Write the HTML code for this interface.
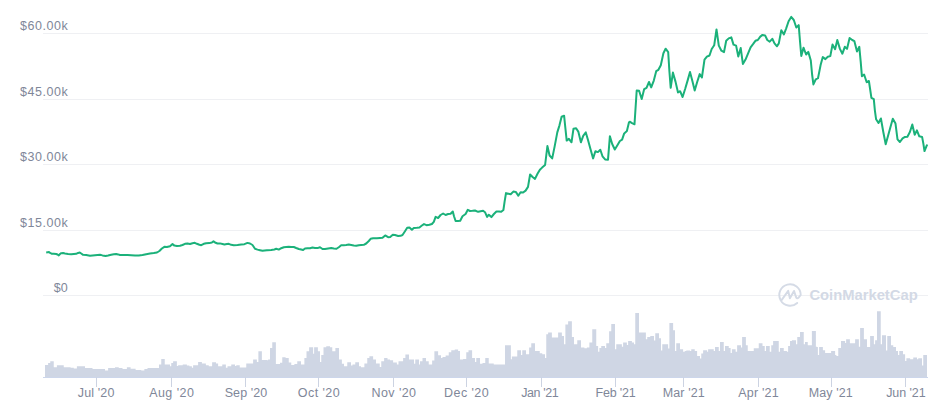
<!DOCTYPE html>
<html><head><meta charset="utf-8"><title>Chart</title>
<style>
html,body{margin:0;padding:0;background:#fff;}
body{width:937px;height:410px;overflow:hidden;font-family:"Liberation Sans",sans-serif;}
svg{display:block;}
svg text{font-family:"Liberation Sans",sans-serif;}
.yl{font-size:12.5px;fill:#7f8799;}
.xl{font-size:12.5px;fill:#7f8799;}
.wm{font-size:14.6px;font-weight:bold;fill:#d3d9e5;}
</style></head><body>
<svg width="937" height="410" viewBox="0 0 937 410">
<rect width="937" height="410" fill="#ffffff"/>
<g fill="#eff0f3">
<rect x="43" y="33" width="885" height="1"/>
<rect x="43" y="99" width="885" height="1"/>
<rect x="43" y="164" width="885" height="1"/>
<rect x="43" y="230" width="885" height="1"/>
<rect x="43" y="295" width="885" height="1"/>
</g>
<g id="wm">
<path d="M781.2 300.6 L788.2 290.9 L789.9 298.2 L794 290.9 L796 297 Q797 299.2 798.6 297.6 L800.7 295 A10.7 10.7 0 1 0 797.2 302.95" fill="none" stroke="#d5dbe6" stroke-width="1.95" stroke-linecap="round" stroke-linejoin="round"/>
<text class="wm" x="809.4" y="300.4" textLength="108.3" lengthAdjust="spacingAndGlyphs">CoinMarketCap</text>
</g>
<text class="yl" x="20.0" y="29.8" textLength="47.8" lengthAdjust="spacing">$60.00k</text>
<text class="yl" x="20.0" y="95.8" textLength="47.8" lengthAdjust="spacing">$45.00k</text>
<text class="yl" x="20.0" y="160.8" textLength="47.8" lengthAdjust="spacing">$30.00k</text>
<text class="yl" x="20.0" y="226.8" textLength="47.8" lengthAdjust="spacing">$15.00k</text>
<text class="yl" x="53.8" y="291.8" textLength="14.0" lengthAdjust="spacing">$0</text>
<path d="M45.00 377.50 L45.00 365.00 L48.12 365.00 L48.12 363.12 L50.25 363.12 L50.25 361.25 L53.75 361.25 L53.75 367.25 L56.88 367.25 L56.88 365.25 L63.75 365.25 L63.75 367.25 L70.62 367.25 L70.62 367.75 L73.75 367.75 L73.75 368.50 L76.88 368.50 L76.88 366.25 L85.00 366.25 L85.00 368.12 L92.50 368.12 L92.50 369.00 L105.00 369.00 L105.00 370.62 L108.12 370.62 L108.12 368.12 L115.00 368.12 L115.00 367.25 L118.75 367.25 L118.75 368.12 L122.50 368.12 L122.50 369.00 L126.88 369.00 L126.88 367.25 L130.62 367.25 L130.62 368.75 L135.62 368.75 L135.62 370.00 L141.25 370.00 L141.25 370.62 L144.38 370.62 L144.38 369.00 L147.50 369.00 L147.50 368.12 L159.00 368.12 L159.00 364.38 L161.25 364.38 L161.25 359.00 L164.75 359.00 L164.75 364.38 L170.00 364.38 L170.00 366.25 L171.25 366.25 L171.25 363.12 L173.12 363.12 L173.12 361.25 L176.88 361.25 L176.88 366.00 L178.12 366.00 L178.12 365.25 L182.75 365.25 L182.75 364.38 L186.88 364.38 L186.88 365.62 L189.38 365.62 L189.38 366.25 L191.88 366.25 L191.88 367.75 L193.12 367.75 L193.12 365.25 L198.12 365.25 L198.12 362.12 L201.88 362.12 L201.88 363.50 L205.88 363.50 L205.88 365.25 L208.75 365.25 L208.75 366.25 L212.12 366.25 L212.12 362.25 L216.00 362.25 L216.00 363.50 L218.12 363.50 L218.12 366.25 L222.25 366.25 L222.25 364.38 L225.88 364.38 L225.88 367.75 L227.50 367.75 L227.50 366.25 L231.25 366.25 L231.25 364.38 L235.00 364.38 L235.00 366.00 L236.25 366.00 L236.25 365.25 L239.75 365.25 L239.75 367.50 L246.25 367.50 L246.25 363.50 L253.12 363.50 L253.12 359.38 L256.88 359.38 L256.88 361.88 L258.38 361.88 L258.38 351.25 L261.88 351.25 L261.88 360.00 L267.12 360.00 L267.12 360.25 L268.12 360.25 L268.12 359.38 L270.00 359.38 L270.00 348.12 L272.25 348.12 L272.25 342.25 L275.88 342.25 L275.88 364.00 L280.00 364.00 L280.00 362.75 L282.25 362.75 L282.25 357.25 L285.62 357.25 L285.62 357.88 L288.75 357.88 L288.75 362.50 L291.25 362.50 L291.25 365.00 L294.38 365.00 L294.38 364.00 L297.25 364.00 L297.25 361.25 L301.00 361.25 L301.00 364.38 L304.38 364.38 L304.38 358.12 L306.50 358.12 L306.50 351.25 L309.12 351.25 L309.12 347.25 L313.12 347.25 L313.12 353.75 L314.12 353.75 L314.12 347.25 L317.88 347.25 L317.88 351.25 L320.00 351.25 L320.00 361.88 L321.25 361.88 L321.25 355.00 L323.50 355.00 L323.50 347.25 L326.25 347.25 L326.25 346.25 L330.00 346.25 L330.00 347.25 L332.25 347.25 L332.25 351.25 L335.38 351.25 L335.38 348.12 L339.00 348.12 L339.00 359.38 L341.88 359.38 L341.88 363.75 L344.00 363.75 L344.00 366.25 L347.25 366.25 L347.25 362.25 L351.00 362.25 L351.00 365.62 L352.50 365.62 L352.50 364.38 L355.25 364.38 L355.25 362.25 L359.00 362.25 L359.00 366.25 L361.00 366.25 L361.00 367.25 L364.38 367.25 L364.38 363.50 L367.25 363.50 L367.25 358.12 L369.38 358.12 L369.38 356.25 L373.12 356.25 L373.12 359.38 L376.00 359.38 L376.00 363.50 L379.75 363.50 L379.75 366.88 L381.25 366.88 L381.25 361.25 L384.12 361.25 L384.12 358.12 L387.50 358.12 L387.50 359.38 L390.00 359.38 L390.00 360.25 L393.12 360.25 L393.12 362.50 L396.88 362.50 L396.88 364.38 L398.50 364.38 L398.50 361.25 L403.12 361.25 L403.12 358.12 L405.38 358.12 L405.38 354.38 L409.00 354.38 L409.00 359.38 L414.00 359.38 L414.00 363.75 L415.25 363.75 L415.25 359.38 L419.00 359.38 L419.00 364.38 L420.00 364.38 L420.00 361.25 L422.50 361.25 L422.50 358.12 L426.00 358.12 L426.00 361.25 L428.75 361.25 L428.75 364.38 L432.12 364.38 L432.12 360.62 L434.38 360.62 L434.38 351.25 L438.12 351.25 L438.12 355.25 L441.00 355.25 L441.00 358.12 L442.50 358.12 L442.50 356.88 L445.62 356.88 L445.62 355.62 L448.75 355.62 L448.75 352.25 L451.25 352.25 L451.25 350.25 L454.75 350.25 L454.75 349.38 L458.12 349.38 L458.12 351.00 L460.00 351.00 L460.00 359.38 L463.12 359.38 L463.12 359.00 L466.25 359.00 L466.25 352.25 L468.50 352.25 L468.50 350.25 L472.12 350.25 L472.12 358.12 L475.00 358.12 L475.00 361.88 L476.25 361.88 L476.25 358.12 L480.00 358.12 L480.00 363.75 L482.50 363.75 L482.50 363.12 L485.25 363.12 L485.25 358.12 L487.12 358.12 L487.12 358.00 L488.75 358.00 L488.75 363.62 L493.75 363.62 L493.75 364.50 L505.00 364.50 L505.00 345.25 L510.88 345.25 L510.88 359.25 L511.88 359.25 L511.88 356.50 L517.25 356.50 L517.25 350.25 L521.00 350.25 L521.00 354.88 L522.25 354.88 L522.25 350.25 L526.00 350.25 L526.00 354.25 L529.12 354.25 L529.12 347.38 L531.25 347.38 L531.25 343.25 L535.00 343.25 L535.00 351.12 L539.75 351.12 L539.75 353.25 L542.25 353.25 L542.25 354.25 L545.00 354.25 L545.00 358.00 L546.25 358.00 L546.25 334.25 L548.12 334.25 L548.12 332.38 L551.88 332.38 L551.88 337.38 L558.12 337.38 L558.12 332.38 L561.88 332.38 L561.88 336.12 L564.00 336.12 L564.00 344.25 L565.38 344.25 L565.38 324.38 L568.12 324.38 L568.12 321.25 L571.88 321.25 L571.88 337.00 L574.00 337.00 L574.00 344.25 L577.25 344.25 L577.25 340.25 L581.00 340.25 L581.00 347.38 L584.38 347.38 L584.38 348.25 L586.88 348.25 L586.88 347.38 L589.38 347.38 L589.38 342.38 L592.25 342.38 L592.25 329.25 L596.25 329.25 L596.25 346.12 L598.12 346.12 L598.12 351.75 L599.38 351.75 L599.38 348.00 L601.25 348.00 L601.25 346.12 L605.00 346.12 L605.00 348.00 L606.25 348.00 L606.25 343.25 L609.12 343.25 L609.12 331.25 L611.25 331.25 L611.25 324.12 L615.00 324.12 L615.00 349.25 L616.25 349.25 L616.25 344.25 L621.88 344.25 L621.88 346.75 L623.12 346.75 L623.12 342.38 L626.88 342.38 L626.88 344.88 L628.12 344.88 L628.12 341.12 L631.88 341.12 L631.88 342.38 L634.00 342.38 L634.00 344.25 L635.25 344.25 L635.25 313.12 L639.00 313.12 L639.00 332.38 L645.88 332.38 L645.88 339.25 L647.25 339.25 L647.25 337.00 L650.25 337.00 L650.25 336.12 L654.00 336.12 L654.00 340.50 L655.25 340.50 L655.25 333.25 L659.00 333.25 L659.00 338.25 L661.00 338.25 L661.00 350.50 L662.25 350.50 L662.25 344.25 L668.12 344.25 L668.12 348.62 L669.38 348.62 L669.38 323.12 L673.12 323.12 L673.12 330.25 L675.00 330.25 L675.00 351.12 L676.25 351.12 L676.25 343.25 L680.00 343.25 L680.00 349.25 L683.12 349.25 L683.12 351.75 L684.75 351.75 L684.75 351.12 L686.25 351.12 L686.25 350.50 L690.00 350.50 L690.00 351.12 L691.25 351.12 L691.25 349.25 L694.75 349.25 L694.75 351.12 L697.12 351.12 L697.12 356.12 L700.00 356.12 L700.00 358.62 L701.25 358.62 L701.25 353.62 L703.12 353.62 L703.12 350.25 L707.12 350.25 L707.12 351.75 L708.12 351.75 L708.12 349.25 L713.75 349.25 L713.75 351.12 L715.00 351.12 L715.00 347.12 L718.75 347.12 L718.75 351.12 L720.00 351.12 L720.00 342.12 L723.75 342.12 L723.75 351.12 L725.00 351.12 L725.00 346.12 L728.75 346.12 L728.75 348.00 L730.62 348.00 L730.62 353.00 L731.88 353.00 L731.88 349.25 L735.62 349.25 L735.62 351.75 L737.12 351.75 L737.12 345.25 L741.00 345.25 L741.00 347.38 L742.12 347.38 L742.12 337.00 L745.88 337.00 L745.88 345.25 L747.75 345.25 L747.75 351.12 L753.75 351.12 L753.75 348.25 L758.75 348.25 L758.75 343.25 L762.50 343.25 L762.50 346.12 L764.75 346.12 L764.75 351.12 L766.00 351.12 L766.00 346.12 L769.75 346.12 L769.75 351.75 L771.25 351.75 L771.25 345.25 L773.12 345.25 L773.12 341.12 L778.75 341.12 L778.75 351.75 L780.00 351.75 L780.00 348.00 L783.75 348.00 L783.75 351.12 L786.88 351.12 L786.88 351.75 L788.12 351.75 L788.12 346.12 L790.00 346.12 L790.00 341.12 L791.88 341.12 L791.88 340.25 L796.00 340.25 L796.00 344.25 L797.25 344.25 L797.25 337.00 L800.00 337.00 L800.00 332.12 L803.75 332.12 L803.75 344.25 L805.00 344.25 L805.00 342.12 L807.75 342.12 L807.75 345.25 L811.88 345.25 L811.88 331.12 L815.88 331.12 L815.88 346.75 L817.12 346.75 L817.12 347.12 L817.88 347.12 L817.88 354.88 L819.12 354.88 L819.12 347.12 L822.88 347.12 L822.88 350.25 L825.12 350.25 L825.12 353.00 L831.12 353.00 L831.12 351.12 L835.12 351.12 L835.12 354.88 L836.38 354.88 L836.38 356.12 L838.25 356.12 L838.25 348.00 L841.00 348.00 L841.00 341.12 L845.12 341.12 L845.12 343.00 L846.12 343.00 L846.12 339.25 L849.88 339.25 L849.88 343.25 L855.12 343.25 L855.12 339.25 L858.88 339.25 L858.88 346.75 L860.12 346.75 L860.12 328.12 L863.88 328.12 L863.88 339.25 L867.00 339.25 L867.00 347.12 L870.12 347.12 L870.12 336.12 L873.88 336.12 L873.88 344.25 L875.12 344.25 L875.12 340.25 L877.00 340.25 L877.00 311.25 L880.75 311.25 L880.75 344.25 L882.00 344.25 L882.00 335.25 L886.00 335.25 L886.00 350.50 L887.25 350.50 L887.25 336.12 L891.00 336.12 L891.00 345.25 L893.25 345.25 L893.25 347.12 L896.00 347.12 L896.00 351.12 L898.00 351.12 L898.00 354.88 L899.25 354.88 L899.25 351.12 L903.00 351.12 L903.00 354.25 L905.12 354.25 L905.12 361.12 L906.38 361.12 L906.38 358.25 L910.12 358.25 L910.12 359.25 L913.25 359.25 L913.25 357.38 L917.00 357.38 L917.00 359.25 L918.25 359.25 L918.25 358.25 L922.00 358.25 L922.00 365.50 L923.25 365.50 L923.25 355.12 L927.00 355.12 L927.00 377.50 Z" fill="#cfd6e4"/>
<rect x="43" y="377" width="885" height="1" fill="#ccd6eb"/>
<g fill="#ccd3e2">
<rect x="96" y="377" width="1" height="10"/>
<rect x="171" y="377" width="1" height="10"/>
<rect x="245" y="377" width="1" height="10"/>
<rect x="318" y="377" width="1" height="10"/>
<rect x="393" y="377" width="1" height="10"/>
<rect x="466" y="377" width="1" height="10"/>
<rect x="541" y="377" width="1" height="10"/>
<rect x="615" y="377" width="1" height="10"/>
<rect x="683" y="377" width="1" height="10"/>
<rect x="758" y="377" width="1" height="10"/>
<rect x="831" y="377" width="1" height="10"/>
<rect x="905" y="377" width="1" height="10"/>
</g>
<text class="xl" x="77.75" y="397.0" textLength="36.6" lengthAdjust="spacing">Jul '20</text>
<text class="xl" x="149.15" y="397.0" textLength="44.8" lengthAdjust="spacing">Aug '20</text>
<text class="xl" x="224.70" y="397.0" textLength="42.5" lengthAdjust="spacing">Sep '20</text>
<text class="xl" x="297.85" y="397.0" textLength="41.8" lengthAdjust="spacing">Oct '20</text>
<text class="xl" x="371.45" y="397.0" textLength="44.6" lengthAdjust="spacing">Nov '20</text>
<text class="xl" x="444.05" y="397.0" textLength="44.6" lengthAdjust="spacing">Dec '20</text>
<text class="xl" x="521.15" y="397.0" textLength="37.6" lengthAdjust="spacing">Jan '21</text>
<text class="xl" x="595.50" y="397.0" textLength="40.3" lengthAdjust="spacing">Feb '21</text>
<text class="xl" x="662.75" y="397.0" textLength="41.9" lengthAdjust="spacing">Mar '21</text>
<text class="xl" x="738.35" y="397.0" textLength="40.3" lengthAdjust="spacing">Apr '21</text>
<text class="xl" x="808.85" y="397.0" textLength="43.8" lengthAdjust="spacing">May '21</text>
<text class="xl" x="886.20" y="397.0" textLength="39.4" lengthAdjust="spacing">Jun '21</text>
<path d="M46.2 252.5 L47.8 252.2 L49.0 252.1 L50.6 253.2 L51.9 253.8 L53.8 253.8 L56.2 254.0 L57.5 254.5 L58.8 255.4 L60.0 254.0 L61.2 253.2 L63.1 253.1 L65.0 253.5 L68.1 253.9 L71.2 254.2 L73.8 254.0 L76.2 253.8 L78.1 252.9 L79.8 252.6 L81.2 253.5 L83.1 254.8 L86.2 255.1 L90.0 255.8 L92.5 255.5 L95.0 255.2 L97.5 255.0 L100.0 254.8 L102.5 255.4 L105.6 256.0 L108.1 255.5 L111.2 254.8 L113.8 254.2 L116.2 254.0 L118.1 254.4 L120.0 255.0 L123.8 254.9 L127.5 255.0 L131.2 255.2 L135.0 255.6 L138.8 255.4 L142.5 255.0 L146.2 254.2 L150.0 253.5 L153.8 253.0 L157.0 252.5 L159.4 251.0 L161.9 248.5 L164.4 246.8 L166.9 247.0 L170.0 246.2 L172.5 244.1 L174.4 245.6 L176.9 246.0 L180.0 245.8 L182.5 245.0 L185.0 243.8 L187.5 243.5 L190.0 244.0 L192.5 243.2 L194.8 242.8 L196.9 243.8 L199.4 244.8 L201.2 245.2 L203.8 243.8 L206.2 243.2 L209.4 243.1 L211.9 242.5 L213.5 241.2 L215.0 242.5 L217.5 243.5 L220.0 243.4 L222.5 244.0 L224.4 244.5 L226.9 244.0 L228.8 243.8 L231.2 244.8 L233.8 245.2 L237.5 245.0 L241.2 244.5 L244.4 244.2 L247.5 242.9 L250.0 243.5 L252.5 245.0 L255.0 248.8 L257.5 249.6 L260.0 250.2 L262.5 250.8 L266.9 250.2 L267.5 250.2 L271.2 249.9 L274.4 249.5 L276.2 248.8 L278.8 249.6 L281.2 248.2 L283.8 247.2 L286.2 247.0 L288.8 246.8 L291.2 246.9 L293.8 247.0 L296.2 248.0 L298.8 249.0 L301.2 249.5 L303.1 250.0 L305.0 248.5 L307.5 248.2 L310.0 248.2 L312.5 247.5 L315.0 247.9 L317.5 248.1 L320.0 247.2 L322.5 249.0 L325.0 249.0 L328.1 248.5 L331.2 248.0 L333.8 248.5 L336.5 248.8 L338.8 247.2 L341.2 245.2 L343.8 245.2 L346.2 245.0 L348.8 244.6 L351.2 245.0 L353.8 245.5 L356.2 245.8 L358.8 245.2 L361.2 245.0 L363.8 244.8 L366.2 243.5 L368.8 241.0 L370.6 238.8 L373.1 238.2 L376.9 238.2 L380.0 238.0 L382.5 237.8 L385.2 235.4 L388.1 237.2 L390.2 237.0 L392.8 234.8 L395.0 235.0 L398.1 236.0 L400.6 235.8 L402.5 235.0 L405.0 231.2 L407.2 227.8 L409.4 227.5 L411.9 229.8 L413.8 228.0 L416.9 227.8 L419.4 227.5 L421.9 225.5 L424.0 224.1 L426.5 225.2 L429.4 224.8 L431.9 224.0 L433.8 221.8 L435.6 216.9 L438.1 218.0 L440.6 215.0 L443.1 213.5 L445.6 215.0 L448.1 214.0 L450.6 213.8 L452.8 211.5 L454.0 216.2 L455.6 221.0 L458.1 221.0 L460.2 220.8 L462.5 216.2 L465.6 214.0 L467.8 209.8 L470.0 211.0 L472.5 210.8 L475.0 210.5 L478.1 211.8 L480.6 211.2 L483.1 210.8 L485.0 212.2 L487.1 216.9 L488.8 214.7 L491.4 217.1 L493.9 214.0 L496.4 211.5 L499.0 211.5 L501.2 211.8 L503.4 210.0 L504.6 201.6 L506.0 193.1 L508.5 193.7 L510.7 194.2 L513.3 191.6 L515.8 191.9 L518.3 195.7 L520.6 192.2 L523.1 192.5 L525.6 190.6 L528.0 186.9 L530.1 174.5 L532.6 177.0 L535.0 178.9 L537.5 173.8 L539.9 169.7 L542.1 167.6 L545.1 165.0 L547.4 146.1 L549.6 155.5 L552.2 158.4 L554.7 146.1 L557.3 132.4 L559.4 125.6 L561.6 116.7 L564.1 115.7 L565.3 127.3 L566.7 140.6 L568.9 138.9 L571.5 142.3 L573.5 128.7 L576.1 128.2 L578.3 131.6 L580.9 142.3 L583.2 135.8 L585.8 132.4 L588.0 140.1 L590.6 149.5 L593.1 158.4 L595.4 151.2 L597.9 152.1 L600.3 149.8 L602.5 156.3 L605.1 159.4 L608.0 159.7 L609.9 136.2 L612.2 144.0 L614.8 149.5 L617.4 145.2 L619.9 141.0 L622.1 139.6 L624.2 133.4 L626.9 131.1 L629.0 122.2 L629.7 121.7 L632.0 123.2 L634.5 124.3 L636.7 90.5 L639.1 90.8 L641.7 99.0 L644.2 89.1 L646.5 87.8 L649.0 82.0 L651.2 87.4 L653.8 80.6 L656.2 71.2 L658.4 69.8 L660.8 65.2 L663.4 53.3 L665.6 48.7 L668.2 52.1 L669.4 71.2 L670.7 87.8 L672.9 72.6 L675.5 81.6 L678.0 92.5 L680.1 91.2 L682.6 97.0 L685.2 88.8 L687.8 79.9 L690.0 72.0 L692.5 81.6 L694.7 90.5 L697.1 82.3 L699.7 74.1 L701.9 77.5 L704.5 59.6 L706.9 56.7 L709.5 55.5 L711.7 49.0 L714.2 45.3 L716.5 29.4 L718.8 45.6 L721.4 50.7 L724.0 52.1 L726.2 40.8 L728.7 38.4 L731.3 37.4 L733.5 44.6 L736.1 45.6 L738.3 56.5 L740.7 48.0 L742.9 63.9 L745.5 59.6 L748.0 53.6 L750.6 47.3 L753.2 43.9 L755.4 40.8 L757.8 40.0 L760.3 36.6 L762.5 34.9 L765.1 35.4 L767.3 40.0 L769.7 41.7 L772.3 38.8 L774.5 43.4 L777.0 46.3 L778.8 43.4 L781.3 30.3 L783.9 34.4 L786.1 28.6 L788.6 21.2 L791.2 16.9 L793.8 20.0 L796.3 27.5 L798.7 25.1 L800.1 42.5 L801.3 55.9 L803.5 47.7 L806.1 54.5 L808.3 51.9 L810.8 60.5 L812.1 74.5 L813.4 84.4 L815.8 79.3 L818.0 78.2 L820.6 65.1 L822.8 57.1 L825.4 59.1 L827.8 56.7 L830.3 56.1 L832.5 44.6 L835.1 49.2 L837.3 40.0 L839.9 48.9 L842.4 53.7 L844.8 46.8 L847.0 48.9 L849.6 38.0 L852.2 40.0 L854.4 41.2 L857.0 51.5 L859.3 46.8 L860.7 61.7 L861.9 76.2 L864.1 74.5 L866.7 82.2 L868.9 81.0 L870.1 89.0 L871.4 97.9 L873.8 99.2 L874.9 110.6 L876.1 119.3 L878.5 123.0 L880.9 118.5 L883.3 132.0 L885.7 144.2 L888.0 136.0 L890.4 127.2 L892.8 118.8 L895.5 123.6 L897.5 139.4 L899.9 142.0 L902.6 138.3 L905.0 136.9 L907.4 136.8 L909.9 132.0 L912.3 124.5 L914.7 134.7 L916.9 130.4 L919.3 136.3 L922.1 136.9 L923.4 143.9 L924.5 151.0 L926.9 145.2 L927.6 144.7" fill="none" stroke="#1bb17a" stroke-width="2" stroke-linejoin="round" stroke-linecap="butt"/>
</svg>
</body></html>
